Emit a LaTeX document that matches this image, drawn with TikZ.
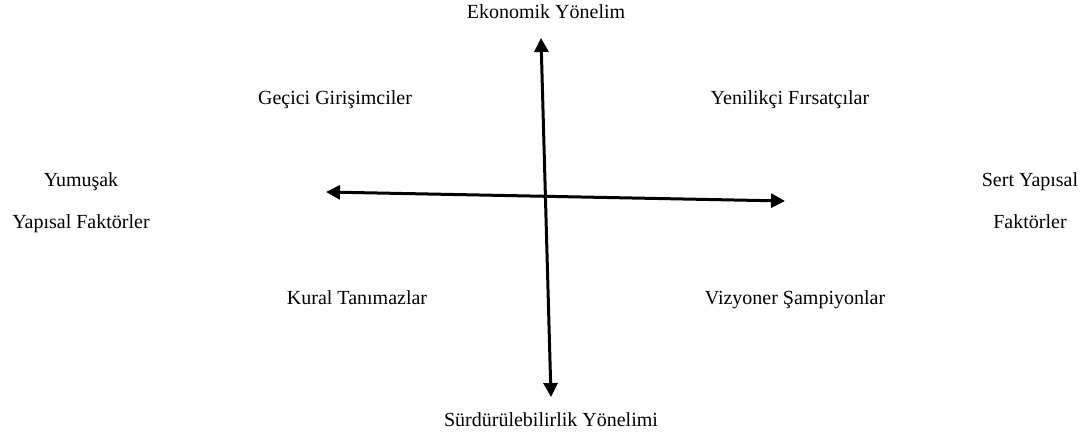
\documentclass[tikz,border=0pt]{standalone}
\usepackage{fontspec}
\setmainfont{Liberation Serif}
\usetikzlibrary{arrows.meta,positioning}

\tikzset{
    axis/.style={line width=1.5pt, {Triangle[length=7pt,width=7pt]}-{Triangle[length=7pt,width=7pt]}},
    lbl/.style={font=\fontsize{10}{21}\selectfont, align=center, inner sep=0pt},
    quad/.style={lbl, text height=0.7em, text depth=0.25em}
}

\begin{document}
\begin{tikzpicture}[x=0.5pt, y=-0.5pt]
    \useasboundingbox (0,0) rectangle (1089,433);

    % Axis ends
    \coordinate (ekoEnd) at (541,38);
    \coordinate (surEnd) at (551,397);
    \coordinate (yumEnd) at (326,192);
    \coordinate (serEnd) at (785,201);

    % Axes
    \draw[axis] (surEnd) -- (ekoEnd);
    \draw[axis] (yumEnd) -- (serEnd);

    % Axis labels
    \node[quad] (eko) at (546,14) {Ekonomik Yönelim};
    \node[quad] (sur) at (551,422) {Sürdürülebilirlik Yönelimi};
    \node[lbl] (yum) at (81,199) {\strut Yumuşak\\\strut Yapısal Faktörler};
    \node[lbl] (ser) at (1030,199) {\strut Sert Yapısal\\\strut Faktörler};

    % Quadrants
    \node[quad] (gec) at (335,100) {Geçici Girişimciler};
    \node[quad] (yen) at (790,100) {Yenilikçi Fırsatçılar};
    \node[quad] (kur) at (357,300) {Kural Tanımazlar};
    \node[quad] (viz) at (795,300) {Vizyoner Şampiyonlar};
\end{tikzpicture}
\end{document}
